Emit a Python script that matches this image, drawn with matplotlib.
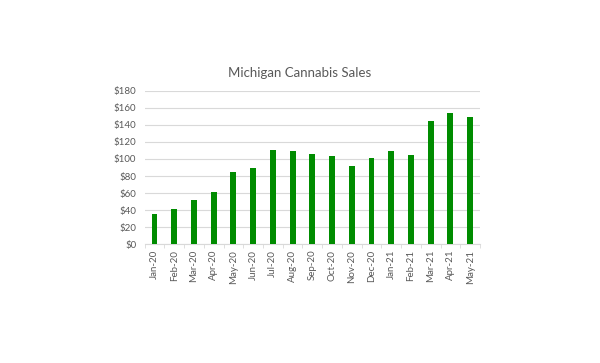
import matplotlib
matplotlib.use("Agg")
import matplotlib.pyplot as plt
import numpy as np

plt.rcParams["font.family"] = ["Lato", "DejaVu Sans"]

months = ["Jan-20", "Feb-20", "Mar-20", "Apr-20", "May-20", "Jun-20", "Jul-20", "Aug-20",
          "Sep-20", "Oct-20", "Nov-20", "Dec-20", "Jan-21", "Feb-21", "Mar-21", "Apr-21", "May-21"]
sales = [35, 41, 52, 61, 85, 90, 110, 109, 106, 103, 92, 101, 109, 105, 145, 154, 149]
yticks = [0, 20, 40, 60, 80, 100, 120, 140, 160, 180]

fig = plt.figure(figsize=(6, 3.63), dpi=100)
ax = fig.add_axes([0.241, 0.327, 0.559, 0.423])
x = np.arange(len(months))
ax.bar(x, sales, width=0.3, color="#008C00", zorder=3)
ax.set_xlim(-0.5, len(months) - 0.5)
ax.set_ylim(0, 180)
ax.set_yticks(yticks)
ax.set_yticklabels([f"${v}" for v in yticks], fontsize=7, color="#595959")
ax.set_xticks(x)
ax.set_xticklabels(months, rotation=90, fontsize=7, color="#595959")
ax.tick_params(axis="x", length=0, pad=4)
ax.tick_params(axis="y", length=0, pad=6)
ax.set_xticks(np.arange(-0.5, len(months)), minor=True)
ax.tick_params(axis="x", which="minor", length=3, color="#d9d9d9")
ax.grid(axis="y", color="#d9d9d9", linewidth=0.8, zorder=0)
for s in ["top", "right", "left"]:
    ax.spines[s].set_visible(False)
ax.spines["bottom"].set_color("#d9d9d9")
fig.text(0.5, 0.80, "Michigan Cannabis Sales", ha="center", va="center", fontsize=9.5, color="#595959")
fig.savefig("out.png", dpi=100)
